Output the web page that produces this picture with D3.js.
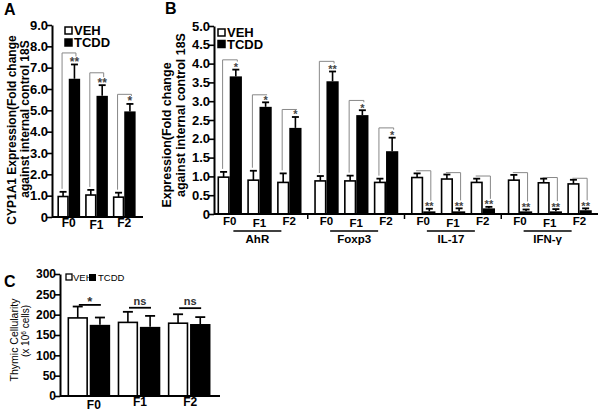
<!DOCTYPE html>
<html>
<head>
<meta charset="utf-8">
<script src="https://cdn.jsdelivr.net/npm/d3@7"></script>
<style>
  body { margin: 0; background: #fff; }
  svg { font-family: "Liberation Sans", Arial, Helvetica, sans-serif; }
</style>
</head>
<body>
<div id="chart"></div>
<script>
// generations and treatment groups
const gens = ["F0", "F1", "F2"];
const groups = ["VEH", "TCDD"];

// panel A: CYP1A1 fold change
const aVeh = [0.96, 1.03, 0.93];
const aVehSem = [0.22, 0.24, 0.21];
const aTcdd = [6.48, 5.68, 4.95];
const aTcddSem = [0.67, 0.5, 0.35];
const aSig = ["**", "**", "*"];
const aBracket = [7.69, 6.76, 5.75];
const aTicks = [0, 1, 2, 3, 4, 5, 6, 7, 8, 9];

// panel B: gene expression per generation
const genes = ["AhR", "Foxp3", "IL-17", "IFN-γ"];
const bVeh = [[0.98, 0.9, 0.84], [0.88, 0.88, 0.84], [0.97, 0.93, 0.84], [0.9, 0.83, 0.8]];
const bVehSem = [[0.14, 0.25, 0.24], [0.13, 0.14, 0.1], [0.11, 0.12, 0.1], [0.14, 0.11, 0.11]];
const bTcdd = [[3.66, 2.85, 2.29], [3.53, 2.63, 1.67], [0.07, 0.07, 0.15], [0.07, 0.07, 0.1]];
const bTcddSem = [[0.18, 0.12, 0.29], [0.26, 0.13, 0.36], [0.07, 0.08, 0.04], [0.05, 0.06, 0.05]];
const bSig = [["*", "*", "*"], ["**", "*", "*"], ["**", "**", "**"], ["**", "**", "**"]];
const bBracket = [[4.1, 3.17, 2.78], [4.06, 3.02, 2.29], [1.15, 1.1, 1.01], [1.1, 0.97, 0.95]];
const bTicks = [0, 0.5, 1, 1.5, 2, 2.5, 3, 3.5, 4, 4.5, 5];

// panel C: thymic cellularity
const cVeh = [192, 181, 179];
const cVehSem = [28, 26, 22];
const cTcdd = [175, 170, 177];
const cTcddSem = [18, 27, 17];
const cSig = ["*", "ns", "ns"];
const cSigLevel = [224, 217, 216];
const cTicks = [0, 50, 100, 150, 200, 250, 300];

const W = 600, H = 411;
const svg = d3.select("#chart").append("svg")
  .attr("width", W).attr("height", H);

const fmt1 = d => d === 0 ? "0" : d3.format(".1f")(d);

function yAxis(g, y, ticks, fmt, size) {
  const ax = g.append("g")
    .call(d3.axisLeft(y).tickValues(ticks).tickFormat(fmt).tickSize(5).tickSizeOuter(0));
  ax.select(".domain").attr("stroke-width", 2);
  ax.selectAll(".tick line").attr("stroke-width", 1.6);
  ax.selectAll(".tick text")
    .attr("x", -4)
    .attr("font-size", size).attr("font-weight", "bold")
    .attr("font-family", "Liberation Sans, Arial, sans-serif");
  return ax;
}

function bars(g, x, xi, y, veh, vehSem, tcdd, tcddSem, cap) {
  const rows = gens.map((f, i) => [
    { f, grp: "VEH", v: veh[i], e: vehSem[i] },
    { f, grp: "TCDD", v: tcdd[i], e: tcddSem[i] }
  ]).flat();
  const cx = d => x(d.f) + xi(d.grp) + xi.bandwidth() / 2;
  // error bars (upper only)
  g.selectAll(null).data(rows).join("line")
    .attr("x1", cx).attr("x2", cx)
    .attr("y1", d => y(d.v)).attr("y2", d => y(d.v + d.e))
    .attr("stroke", "#000").attr("stroke-width", 1.6);
  g.selectAll(null).data(rows).join("line")
    .attr("x1", d => cx(d) - cap / 2).attr("x2", d => cx(d) + cap / 2)
    .attr("y1", d => y(d.v + d.e)).attr("y2", d => y(d.v + d.e))
    .attr("stroke", "#000").attr("stroke-width", 1.8);
  g.selectAll(null).data(rows).join("rect")
    .attr("x", d => x(d.f) + xi(d.grp) + (d.grp === "VEH" ? 0.8 : 0))
    .attr("width", d => xi.bandwidth() - (d.grp === "VEH" ? 1.6 : 0))
    .attr("y", d => y(d.v))
    .attr("height", d => y(0) - y(d.v))
    .attr("fill", d => d.grp === "VEH" ? "#fff" : "#000")
    .attr("stroke", "#000").attr("stroke-width", d => d.grp === "VEH" ? 1.6 : 0);
  return cx;
}

function brackets(g, x, xi, y, veh, vehSem, tcdd, tcddSem, level, sig, fs) {
  const vx = i => x(gens[i]) + xi("VEH") + xi.bandwidth() / 2 - 1;
  const tx = i => x(gens[i]) + xi("TCDD") + xi.bandwidth() / 2 + 1.5;
  gens.forEach((f, i) => {
    const top = y(level[i]);
    const lb = y(veh[i] + vehSem[i]) - 3;
    const rb = y(tcdd[i] + tcddSem[i]) - 8;
    g.append("path")
      .attr("d", `M${vx(i)},${Math.max(lb, top)}V${top}H${tx(i)}V${Math.max(rb, top)}`)
      .attr("fill", "none").attr("stroke", "#888").attr("stroke-width", 1);
    g.append("text")
      .attr("x", tx(i) - 1.5).attr("y", y(tcdd[i] + tcddSem[i]) + 1.5)
      .attr("text-anchor", "middle")
      .attr("font-size", fs).attr("font-weight", "bold").attr("fill", "#444")
      .text(sig[i]);
  });
}

function legend(g, x, y, size, fs, gap, weight) {
  groups.forEach((grp, i) => {
    g.append("rect")
      .attr("x", x).attr("y", y + i * gap).attr("width", size).attr("height", size)
      .attr("fill", grp === "VEH" ? "#fff" : "#000")
      .attr("stroke", "#000").attr("stroke-width", 1.5);
    g.append("text")
      .attr("x", x + size + 2).attr("y", y + i * gap + size + 1)
      .attr("font-size", fs).attr("font-weight", weight)
      .text(grp);
  });
}

function rotLabel(x, cy, txt, fs, weight) {
  return svg.append("text")
    .attr("transform", `translate(${x},${cy}) rotate(-90)`)
    .attr("text-anchor", "middle")
    .attr("font-size", fs).attr("font-weight", weight)
    .text(txt);
}

// ---------- Panel A ----------
{
  const L = 52, R = 143, T = 25, B = 217;
  const g = svg.append("g");
  const y = d3.scaleLinear().domain([0, 9]).range([B, T]);
  const x = d3.scaleBand().domain(gens).range([L + 4, R - 6]).paddingInner(0.18).paddingOuter(0.05);
  const xi = d3.scaleBand().domain(groups).range([0, x.bandwidth()]);
  bars(g, x, xi, y, aVeh, aVehSem, aTcdd, aTcddSem, 7);
  brackets(g, x, xi, y, aVeh, aVehSem, aTcdd, aTcddSem, aBracket, aSig, 12);
  g.append("g").attr("transform", `translate(${L},0)`).call(ax => yAxis(ax, y, aTicks, fmt1, 13));
  g.append("line").attr("x1", L).attr("x2", R).attr("y1", B).attr("y2", B)
    .attr("stroke", "#000").attr("stroke-width", 2);
  g.selectAll(null).data(gens).join("text")
    .attr("x", d => x(d) + x.bandwidth() / 2)
    .attr("y", (d, i) => B + (i === 1 ? 12 : 10))
    .attr("text-anchor", "middle").attr("font-size", 12).attr("font-weight", "bold")
    .text(d => d);
  legend(g, 65, 27, 7, 13, 12, "bold");
  svg.append("text").attr("x", 4).attr("y", 15).attr("font-size", 16).attr("font-weight", "bold").text("A");
  rotLabel(15.5, 130, "CYP1A1 Expression(Fold change", 12, "bold");
  rotLabel(28.5, 119, "against internal control 18S", 12, "bold");
}

// ---------- Panel B ----------
{
  const L = 214, R = 598, T = 26, B = 214;
  const g = svg.append("g");
  const y = d3.scaleLinear().domain([0, 5]).range([B, T]);
  const gx = d3.scaleBand().domain(genes).range([211, R]);
  const x = d3.scaleBand().domain(gens).range([5, 92]).paddingInner(0.18).paddingOuter(0.05);
  const xi = d3.scaleBand().domain(groups).range([0, x.bandwidth()]);
  genes.forEach((gene, k) => {
    const gg = g.append("g").attr("transform", `translate(${gx(gene)},0)`);
    bars(gg, x, xi, y, bVeh[k], bVehSem[k], bTcdd[k], bTcddSem[k], 7);
    brackets(gg, x, xi, y, bVeh[k], bVehSem[k], bTcdd[k], bTcddSem[k], bBracket[k], bSig[k], 11);
    gg.selectAll(null).data(gens).join("text")
      .attr("x", d => x(d) + x.bandwidth() / 2)
      .attr("y", (d, i) => B + (i === 1 ? 13 : 11))
      .attr("text-anchor", "middle").attr("font-size", 11.5).attr("font-weight", "bold")
      .text(d => d);
    const c = gx.bandwidth() / 2;
    gg.append("line").attr("x1", c - 26).attr("x2", c + 22).attr("y1", B + 17).attr("y2", B + 17)
      .attr("stroke", "#000").attr("stroke-width", 1.6);
    gg.append("text").attr("x", c - 2).attr("y", B + 29)
      .attr("text-anchor", "middle").attr("font-size", 11.5).attr("font-weight", "bold")
      .text(gene);
  });
  g.append("g").attr("transform", `translate(${L},0)`).call(ax => yAxis(ax, y, bTicks, fmt1, 13));
  g.append("line").attr("x1", L).attr("x2", R).attr("y1", B).attr("y2", B)
    .attr("stroke", "#000").attr("stroke-width", 2);
  g.selectAll(null).data(genes.slice(1)).join("line")
    .attr("x1", d => gx(d)).attr("x2", d => gx(d))
    .attr("y1", B).attr("y2", B + 5)
    .attr("stroke", "#000").attr("stroke-width", 1.5);
  legend(g, 218, 29, 7, 13, 11.5, "bold");
  svg.append("text").attr("x", 165).attr("y", 14).attr("font-size", 16).attr("font-weight", "bold").text("B");
  rotLabel(170.5, 135, "Expression(Fold change", 12.5, "bold");
  rotLabel(184.5, 115, "against internal control 18S", 12.5, "bold");
}

// ---------- Panel C ----------
{
  const L = 60, R = 220, T = 274, B = 396;
  const g = svg.append("g");
  const y = d3.scaleLinear().domain([0, 300]).range([B, T]);
  const x = d3.scaleBand().domain(gens).range([L, R - 2]).paddingInner(0.15).paddingOuter(0.15);
  const xi = d3.scaleBand().domain(groups).range([0, x.bandwidth()]).paddingInner(0.08);
  bars(g, x, xi, y, cVeh, cVehSem, cTcdd, cTcddSem, 10);
  g.append("g").attr("transform", `translate(${L},0)`).call(ax => yAxis(ax, y, cTicks, d => d, 12));
  g.append("line").attr("x1", L).attr("x2", R).attr("y1", B).attr("y2", B)
    .attr("stroke", "#000").attr("stroke-width", 2);
  gens.forEach((f, i) => {
    const c = x(f) + x.bandwidth() / 2;
    g.append("line").attr("x1", c - 10).attr("x2", c + 12)
      .attr("y1", y(cSigLevel[i])).attr("y2", y(cSigLevel[i]))
      .attr("stroke", "#000").attr("stroke-width", 1.8);
    g.append("text").attr("x", c + 1).attr("y", y(cSigLevel[i]) - (cSig[i] === "*" ? -1 : 3))
      .attr("text-anchor", "middle").attr("font-size", cSig[i] === "*" ? 13 : 11)
      .attr("font-weight", "bold").attr("fill", "#333")
      .text(cSig[i]);
  });
  g.selectAll(null).data(gens).join("text")
    .attr("x", (d, i) => x(d) + x.bandwidth() / 2 + (i === 0 ? 5 : 1))
    .attr("y", (d, i) => B + (i === 0 ? 13 : 10))
    .attr("text-anchor", "middle").attr("font-size", 12).attr("font-weight", "bold")
    .text(d => d);
  // legend in one row
  g.append("rect").attr("x", 66).attr("y", 274).attr("width", 6).attr("height", 6)
    .attr("fill", "#fff").attr("stroke", "#000").attr("stroke-width", 1.3);
  g.append("text").attr("x", 73).attr("y", 281).attr("font-size", 9.5).text(groups[0]);
  g.append("rect").attr("x", 89).attr("y", 274).attr("width", 7).attr("height", 7).attr("fill", "#000");
  g.append("text").attr("x", 98).attr("y", 281).attr("font-size", 9.5).text(groups[1]);
  svg.append("text").attr("x", 4).attr("y", 287).attr("font-size", 16).attr("font-weight", "bold").text("C");
  rotLabel(18, 340, "Thymic Cellularity", 10.5, "normal");
  const t = rotLabel(28.5, 331, "", 10, "normal");
  t.append("tspan").text("(x 10");
  t.append("tspan").attr("dy", -3).attr("font-size", 6.5).text("6");
  t.append("tspan").attr("dy", 3).text(" cells)");
}
</script>
</body>
</html>
